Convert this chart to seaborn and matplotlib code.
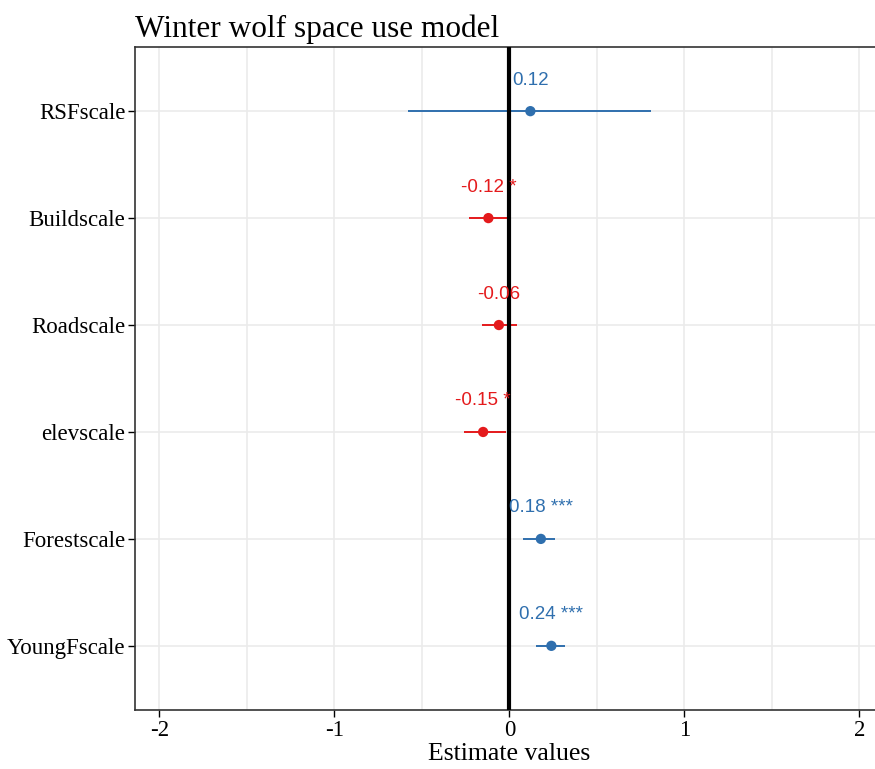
import pandas as pd
import matplotlib.pyplot as plt
import seaborn as sns

# model terms (top to bottom) and estimates with 95% CI
terms = ['RSFscale', 'Buildscale', 'Roadscale', 'elevscale', 'Forestscale', 'YoungFscale']
estimate = [0.12, -0.12, -0.06, -0.15, 0.18, 0.24]
ci_low = [-0.58, -0.23, -0.155, -0.26, 0.08, 0.15]
ci_high = [0.81, -0.005, 0.046, -0.02, 0.26, 0.32]
stars = ['', '*', '', '*', '***', '***']

df = pd.DataFrame({'term': terms, 'estimate': estimate,
                   'low': ci_low, 'high': ci_high, 'stars': stars})
df['pos'] = range(len(df))
df['sign'] = ['pos' if e > 0 else 'neg' for e in df['estimate']]
colors = {'pos': '#2f6fae', 'neg': '#e41a1c'}

sns.set_theme(style='white')
plt.rcParams['font.family'] = ['Liberation Serif', 'DejaVu Serif']
plt.rcParams['text.color'] = 'black'
plt.rcParams['axes.labelcolor'] = 'black'

fig = plt.figure(figsize=(8.75, 7.69), dpi=100)
ax = fig.add_axes([135 / 875, 59 / 769, 1 - 135 / 875 + 0.01, 663 / 769])

# grid
for x in [-2, -1.5, -1, -0.5, 0.5, 1, 1.5, 2]:
    ax.axvline(x, color='#ebebeb', lw=1.2, zorder=0)
for y in df['pos']:
    ax.axhline(y, color='#ebebeb', lw=1.2, zorder=0)

# confidence intervals
for _, r in df.iterrows():
    ax.hlines(r['pos'], r['low'], r['high'], color=colors[r['sign']], lw=1.4, zorder=2)

ax.axvline(0, color='black', lw=3, zorder=3)

sns.scatterplot(data=df, x='estimate', y='pos', hue='sign', palette=colors,
                s=55, edgecolor='none', legend=False, ax=ax, zorder=4)

# value labels
for _, r in df.iterrows():
    lab = f"{r['estimate']:.2f}" + (f" {r['stars']}" if r['stars'] else '')
    ax.text(r['estimate'], r['pos'] - 0.29, lab, ha='center', va='center',
            color=colors[r['sign']], fontsize=13.5, family='Liberation Sans', zorder=5)

ax.set_xlim(-2.14, 2.14)
ax.set_ylim(5.6, -0.6)
ax.set_xticks([-2, -1, 0, 1, 2])
ax.set_xticklabels(['-2', '-1', '0', '1', '2'])
ax.set_yticks(df['pos'])
ax.set_yticklabels(terms)
ax.tick_params(axis='both', which='major', labelsize=16.5, colors='black',
               length=5, width=1, direction='out', bottom=True, left=True, pad=2)
ax.set_xlabel('Estimate values', fontsize=18.5, labelpad=2)
ax.set_ylabel('')
ax.set_title('Winter wolf space use model', fontsize=22.5, loc='left', pad=7, color='black')

for s in ['left', 'bottom', 'top']:
    ax.spines[s].set_color('#333333')
    ax.spines[s].set_linewidth(1.2)
ax.spines['right'].set_visible(False)

fig.savefig('out.png', dpi=100)
